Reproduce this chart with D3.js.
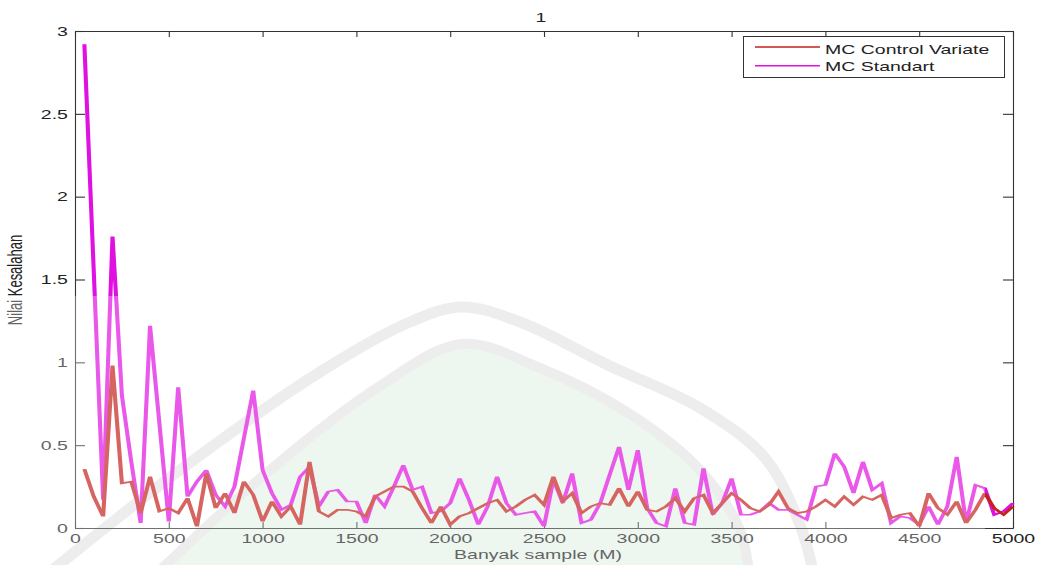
<!DOCTYPE html>
<html>
<head>
<meta charset="utf-8">
<script src="https://cdn.jsdelivr.net/npm/d3@7"></script>
<style>
  html, body { margin: 0; padding: 0; background: #fff; }
  svg { display: block; font-family: "Liberation Sans", Arial, sans-serif; }
</style>
</head>
<body>
<svg id="chart" width="1055" height="565"></svg>
<script>
// Sample sizes M
const sampleSizes = [
  50, 100, 150, 200, 250, 300, 350, 400, 450, 500,
  550, 600, 650, 700, 750, 800, 850, 900, 950, 1000,
  1050, 1100, 1150, 1200, 1250, 1300, 1350, 1400, 1450, 1500,
  1550, 1600, 1650, 1700, 1750, 1800, 1850, 1900, 1950, 2000,
  2050, 2100, 2150, 2200, 2250, 2300, 2350, 2400, 2450, 2500,
  2550, 2600, 2650, 2700, 2750, 2800, 2850, 2900, 2950, 3000,
  3050, 3100, 3150, 3200, 3250, 3300, 3350, 3400, 3450, 3500,
  3550, 3600, 3650, 3700, 3750, 3800, 3850, 3900, 3950, 4000,
  4050, 4100, 4150, 4200, 4250, 4300, 4350, 4400, 4450, 4500,
  4550, 4600, 4650, 4700, 4750, 4800, 4850, 4900, 4950, 5000
];

// Error of the control-variate estimator
const mcControlVariate = [
  0.355, 0.19, 0.07, 0.98, 0.27, 0.28, 0.09, 0.31, 0.10, 0.12,
  0.09, 0.18, 0.01, 0.33, 0.12, 0.21, 0.09, 0.28, 0.20, 0.04,
  0.16, 0.07, 0.13, 0.02, 0.40, 0.10, 0.07, 0.11, 0.11, 0.10,
  0.07, 0.19, 0.22, 0.25, 0.25, 0.22, 0.12, 0.03, 0.13, 0.02,
  0.07, 0.09, 0.12, 0.15, 0.17, 0.10, 0.13, 0.17, 0.20, 0.14,
  0.31, 0.16, 0.21, 0.09, 0.13, 0.15, 0.14, 0.24, 0.13, 0.22,
  0.11, 0.10, 0.13, 0.18, 0.10, 0.18, 0.20, 0.09, 0.15, 0.21,
  0.17, 0.12, 0.10, 0.14, 0.22, 0.12, 0.09, 0.10, 0.13, 0.17,
  0.13, 0.19, 0.14, 0.19, 0.17, 0.20, 0.06, 0.08, 0.09, 0.01,
  0.21, 0.12, 0.08, 0.16, 0.03, 0.11, 0.21, 0.12, 0.08, 0.13
];

// Error of the standard Monte Carlo estimator
const mcStandart = [
  2.92, 1.55, 0.17, 1.76, 0.80, 0.40, 0.03, 1.22, 0.63, 0.04,
  0.85, 0.19, 0.28, 0.35, 0.20, 0.13, 0.25, 0.54, 0.83, 0.35,
  0.21, 0.11, 0.14, 0.31, 0.37, 0.13, 0.22, 0.23, 0.16, 0.16,
  0.03, 0.20, 0.13, 0.25, 0.38, 0.23, 0.25, 0.09, 0.10, 0.15,
  0.30, 0.17, 0.02, 0.13, 0.31, 0.15, 0.08, 0.09, 0.10, 0.01,
  0.29, 0.15, 0.33, 0.03, 0.05, 0.15, 0.32, 0.49, 0.23, 0.47,
  0.12, 0.03, 0.01, 0.24, 0.03, 0.02, 0.36, 0.08, 0.15, 0.30,
  0.08, 0.08, 0.10, 0.15, 0.11, 0.11, 0.08, 0.05, 0.25, 0.26,
  0.45, 0.37, 0.21, 0.40, 0.23, 0.27, 0.03, 0.07, 0.06, 0.02,
  0.13, 0.02, 0.13, 0.43, 0.03, 0.26, 0.24, 0.08, 0.10, 0.15
];

const xTickValues = [0, 500, 1000, 1500, 2000, 2500, 3000, 3500, 4000, 4500, 5000];
const xTickLabels = ["0", "500", "1000", "1500", "2000", "2500", "3000", "3500", "4000", "4500", "5000"];
const yTickValues = [0, 0.5, 1, 1.5, 2, 2.5, 3];
const yTickLabels = ["0", "0.5", "1", "1.5", "2", "2.5", "3"];
const seriesNames = ["MC Control Variate", "MC Standart"];
const titleText = "1";
const xLabelText = "Banyak sample (M)";
const yLabelText = "Nilai Kesalahan";

// ---- layout ----
const L = 75, R = 1013, T = 31, B = 528;
const textStretch = 1.5;   // figure is rendered wide: glyphs are stretched horizontally
const lineStretch = 2.4;   // steep segments come out thicker than flat ones
const colRed = "#c4221e";
const colMag = "#e010e0";
const axisCol = "#333";

const svg = d3.select("#chart");
svg.append("rect").attr("width", 1055).attr("height", 565).attr("fill", "#fff");

const x = d3.scaleLinear().domain([0, 5000]).range([L, R]);
const y = d3.scaleLinear().domain([0, 3]).range([B, T]);

// ---- faint background emblem (arch) ----
const arch = svg.append("g");
const archLine = d3.line().curve(d3.curveCatmullRom);
const outerArch = [[40,580],[180,470],[320,372],[410,322],[462,307],[520,322],[610,366],[700,408],[765,458],[800,525],[815,580]];
const innerArch = [[150,580],[270,470],[380,386],[462,344],[540,368],[630,414],[700,470],[740,530],[750,580]];
arch.append("path")
  .attr("d", archLine(innerArch) + "Z")
  .attr("fill", "#e6f2e8");
arch.append("path")
  .attr("d", archLine(outerArch))
  .attr("fill", "none").attr("stroke", "#e4e6e4").attr("stroke-width", 11);
arch.append("path")
  .attr("d", archLine(innerArch))
  .attr("fill", "none").attr("stroke", "#e4e6e4").attr("stroke-width", 10);

// ---- axes (box with inward ticks) ----
function styleAxis(g) {
  g.selectAll("path, line").attr("stroke", axisCol).attr("stroke-width", 1.1);
  g.selectAll("text")
    .attr("fill", "#222")
    .attr("font-size", 13)
    .attr("font-family", "'Liberation Sans', Arial, sans-serif")
    .attr("transform", `scale(${textStretch},1)`);
}

svg.append("g")
  .attr("transform", `translate(0,${B})`)
  .call(d3.axisBottom(x).tickValues(xTickValues)
        .tickFormat((d, i) => xTickLabels[i]).tickSize(-6).tickSizeOuter(0).tickPadding(6))
  .call(styleAxis);

svg.append("g")
  .attr("transform", `translate(0,${T})`)
  .call(d3.axisTop(x).tickValues(xTickValues).tickFormat("").tickSize(-6).tickSizeOuter(0))
  .call(styleAxis);

svg.append("g")
  .attr("transform", `translate(${L},0)`)
  .call(d3.axisLeft(y).tickValues(yTickValues)
        .tickFormat((d, i) => yTickLabels[i]).tickSize(-10).tickSizeOuter(0).tickPadding(4.7))
  .call(styleAxis);

svg.append("g")
  .attr("transform", `translate(${R},0)`)
  .call(d3.axisRight(y).tickValues(yTickValues).tickFormat("").tickSize(-10).tickSizeOuter(0))
  .call(styleAxis);

// ---- series ----
const xs = d3.scaleLinear().domain([0, 5000]).range([0, (R - L) / lineStretch]);
const gLines = svg.append("g").attr("transform", `translate(${L},0) scale(${lineStretch},1)`);
const line = d3.line().x((d, i) => xs(sampleSizes[i])).y(d => y(d));

gLines.append("path").datum(mcStandart)
  .attr("d", line).attr("fill", "none")
  .attr("stroke", colMag).attr("stroke-width", 1.7).attr("stroke-linejoin", "miter");
gLines.append("path").datum(mcControlVariate)
  .attr("d", line).attr("fill", "none")
  .attr("stroke", colRed).attr("stroke-width", 1.7).attr("stroke-linejoin", "miter");

// ---- titles ----
svg.append("text")
  .attr("transform", `translate(541,22) scale(${textStretch},1)`)
  .attr("text-anchor", "middle").attr("font-size", 13).attr("fill", "#222")
  .text(titleText);

svg.append("text")
  .attr("transform", `translate(538,559) scale(${textStretch},1)`)
  .attr("text-anchor", "middle").attr("font-size", 13).attr("fill", "#222")
  .text(xLabelText);

svg.append("text")
  .attr("transform", `translate(22,280) scale(${textStretch},1) rotate(-90)`)
  .attr("text-anchor", "middle").attr("font-size", 13).attr("fill", "#222")
  .text(yLabelText);

// ---- legend ----
const lg = svg.append("g");
lg.append("rect")
  .attr("x", 743.5).attr("y", 36.5).attr("width", 261).attr("height", 41)
  .attr("fill", "#fff").attr("stroke", axisCol).attr("stroke-width", 1);
[colRed, colMag].forEach((c, i) => {
  const yy = 47 + i * 18.7;
  lg.append("line").attr("x1", 755).attr("x2", 820).attr("y1", yy).attr("y2", yy)
    .attr("stroke", c).attr("stroke-width", 1.6);
  lg.append("text")
    .attr("transform", `translate(825,${54 + i * 17}) scale(${textStretch},1)`)
    .attr("font-size", 13).attr("fill", "#222")
    .text(seriesNames[i]);
});

// ---- translucent wash over the lower part of the figure ----
svg.append("rect")
  .attr("x", 0).attr("y", 296).attr("width", 985).attr("height", 269)
  .attr("fill", "#fff").attr("opacity", 0.3);
</script>
</body>
</html>
